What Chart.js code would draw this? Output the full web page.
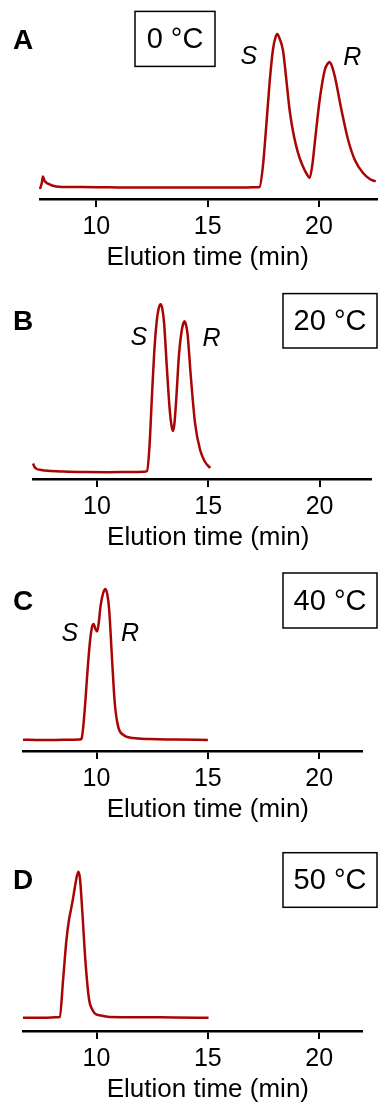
<!DOCTYPE html>
<html>
<head>
<meta charset="utf-8">
<script src="https://cdn.jsdelivr.net/npm/chart.js@4.4.1/dist/chart.umd.min.js"></script>
<style>
  html, body { margin: 0; padding: 0; background: #fff; overflow: hidden; }
  #wrap { position: relative; width: 378px; height: 1103px; overflow: hidden; }
  #wrap canvas { position: absolute; left: 0; }
</style>
</head>
<body>
<div id="wrap">
  <canvas id="chartA" width="378" height="280"></canvas>
  <canvas id="chartB" width="378" height="280"></canvas>
  <canvas id="chartC" width="378" height="280"></canvas>
  <canvas id="chartD" width="378" height="280"></canvas>
</div>
<script>
// Chiral HPLC traces of the racemate at four column temperatures.
// Elution time in minutes, detector signal in arbitrary units.
const xTicks = [10, 15, 20];

// 0 °C
const timeA = [7.47, 7.55, 7.60, 7.68, 7.83, 8.2, 9.0, 10.0, 11.0, 12.0, 13.0, 14.0, 15.0, 16.0, 16.8, 17.2, 17.33, 17.48, 17.63, 17.78, 17.93, 18.05, 18.13, 18.22, 18.38, 18.53, 18.68, 18.83, 18.98, 19.13, 19.28, 19.45, 19.58, 19.70, 19.81, 20.03, 20.26, 20.38, 20.46, 20.56, 20.71, 21.01, 21.31, 21.61, 21.98, 22.28, 22.55];
const signalA = [10, 16, 22.5, 18, 15.3, 12.6, 12, 11.7, 11.6, 11.4, 11.5, 11.5, 11.6, 11.5, 11.6, 11.7, 12, 32.6, 72.6, 116, 149, 162, 165, 161, 149, 120, 89, 68, 52.6, 41, 32.6, 25, 21, 34, 56, 99, 129, 135, 137, 134, 122.6, 89, 59, 39, 26, 20, 17.6];

// 20 °C
const timeB = [7.13, 7.2, 7.3, 7.5, 7.8, 8.5, 9.5, 10.5, 11.5, 12.1, 12.25, 12.36, 12.47, 12.57, 12.69, 12.78, 12.86, 12.94, 13.02, 13.14, 13.26, 13.34, 13.41, 13.48, 13.56, 13.69, 13.81, 13.88, 13.93, 13.99, 14.07, 14.22, 14.41, 14.64, 14.86, 15.09];
const signalB = [15.4, 12, 10, 9, 8.2, 7.5, 7, 6.8, 7, 7.2, 8, 32, 82, 125, 158.7, 171, 174.7, 170, 155.4, 112, 72, 55, 48, 55, 78.7, 125.4, 148.7, 155.5, 157.7, 155, 145.4, 102, 55.4, 28.7, 17, 11];

// 40 °C
const timeC = [6.7, 7.5, 8.5, 9.0, 9.25, 9.33, 9.47, 9.58, 9.70, 9.80, 9.87, 9.95, 10.03, 10.10, 10.18, 10.30, 10.40, 10.49, 10.57, 10.70, 10.82, 10.97, 11.19, 11.64, 12.39, 13.5, 15.0];
const signalC = [11.3, 11, 11.2, 11.3, 11.5, 12.5, 41, 75, 108, 124, 127, 122, 119.6, 128, 144.6, 158, 162, 156, 141, 91, 48, 24.6, 16.3, 13, 12, 11.5, 11];

// 50 °C
const timeD = [6.7, 7.5, 8.0, 8.3, 8.35, 8.5, 8.65, 8.77, 8.85, 8.95, 9.03, 9.12, 9.19, 9.26, 9.35, 9.51, 9.67, 9.80, 9.92, 10.2, 10.6, 12, 13.5, 15.03];
const signalD = [13.3, 13.3, 13.5, 13.8, 14, 51, 91, 112, 121, 133, 144, 155, 159.3, 152, 124, 67.7, 31, 22, 17.7, 15.5, 14, 13.8, 13.5, 13.3];

// Enantiomer labels (text, elution time, signal level)
const peakLabelsA = [['S', 16.85, 141.8], ['R', 21.49, 141]];
const peakLabelsB = [['S', 11.88, 140.7], ['R', 15.15, 139.7]];
const peakLabelsC = [['S', 8.80, 117.3], ['R', 11.50, 117.3]];
const peakLabelsD = [];

const panelLetters = ['A', 'B', 'C', 'D'];
const temperatures = ['0 °C', '20 °C', '40 °C', '50 °C'];

const FONT = '"Liberation Sans", Arial, Helvetica, sans-serif';
const TRACE = '#aa0505';
const AXIS_H = 80;

// page placement and frame of each panel
const layouts = [
  { top: -1,  left: 40, right: 0,  min: 7.47, max: 22.65, letterY: 157.6, box: [135, 215, 187.6, 132.6] },
  { top: 279, left: 33, right: 7,  min: 7.13, max: 22.31, letterY: 157,   box: [283, 377, 185.4, 131] },
  { top: 551, left: 23, right: 16, min: 6.70, max: 21.92, letterY: 148.6, box: [283, 377, 178,   123] },
  { top: 831, left: 23, right: 16, min: 6.70, max: 21.92, letterY: 149.3, box: [283, 377, 178.3, 123.7] }
];

const series = [
  [timeA, signalA, peakLabelsA],
  [timeB, signalB, peakLabelsB],
  [timeC, signalC, peakLabelsC],
  [timeD, signalD, peakLabelsD]
];

const decorations = {
  id: 'panelDecorations',
  afterDraw(chart, args, opts) {
    const { ctx, chartArea, scales } = chart;
    const xs = scales.x, ys = scales.y;
    const base = chartArea.bottom;
    ctx.save();
    ctx.fillStyle = '#000';

    // panel letter
    ctx.font = 'bold 28px ' + FONT;
    ctx.textAlign = 'left';
    ctx.textBaseline = 'middle';
    ctx.fillText(opts.letter, 13, base - opts.letterY);

    // temperature box
    const [bx0, bx1, byTop, byBot] = opts.box;
    ctx.strokeStyle = '#000';
    ctx.lineWidth = 1.5;
    ctx.strokeRect(bx0, base - byTop, bx1 - bx0, byTop - byBot);
    ctx.font = '29px ' + FONT;
    ctx.textAlign = 'center';
    ctx.fillText(opts.temp, (bx0 + bx1) / 2, base - (byTop + byBot) / 2 + 1);

    // enantiomer labels
    ctx.font = 'italic 25px ' + FONT;
    opts.peaks.forEach(([t, x, y]) => {
      ctx.fillText(t, xs.getPixelForValue(x), ys.getPixelForValue(y));
    });

    // axis title, centred under the 15 min tick
    ctx.font = '26px ' + FONT;
    ctx.textBaseline = 'alphabetic';
    ctx.fillText('Elution time (min)', xs.getPixelForValue(15), base + 66);
    ctx.restore();
  }
};

['chartA', 'chartB', 'chartC', 'chartD'].forEach((id, i) => {
  const L = layouts[i];
  const [time, signal, peaks] = series[i];
  const canvas = document.getElementById(id);
  canvas.style.top = L.top + 'px';
  canvas.style.width = '378px';
  canvas.style.height = '280px';

  new Chart(canvas, {
    type: 'line',
    data: {
      datasets: [{
        data: time.map((t, k) => ({ x: t, y: signal[k] })),
        borderColor: TRACE,
        borderWidth: 2.5,
        pointRadius: 0,
        fill: false,
        cubicInterpolationMode: 'monotone',
        clip: false
      }]
    },
    options: {
      responsive: false,
      animation: false,
      devicePixelRatio: 1,
      layout: { padding: { left: L.left, right: L.right, top: 20, bottom: 0 } },
      plugins: {
        legend: { display: false },
        tooltip: { enabled: false },
        panelDecorations: {
          letter: panelLetters[i],
          temp: temperatures[i],
          peaks: peaks,
          letterY: L.letterY,
          box: L.box
        }
      },
      scales: {
        x: {
          type: 'linear',
          min: L.min,
          max: L.max,
          afterBuildTicks: (scale) => { scale.ticks = xTicks.map(v => ({ value: v })); },
          afterFit: (scale) => { scale.height = AXIS_H; },
          grid: { drawOnChartArea: false, drawTicks: true, tickLength: 8, color: '#000', lineWidth: 2 },
          border: { display: true, color: '#000', width: 2.5 },
          ticks: {
            color: '#000',
            padding: 5,
            maxRotation: 0,
            font: { family: FONT, size: 25 },
            callback: (v) => String(v)
          },
          title: { display: false }
        },
        y: {
          display: false,
          min: 0,
          max: 180
        }
      }
    },
    plugins: [decorations]
  });
});
</script>
</body>
</html>
